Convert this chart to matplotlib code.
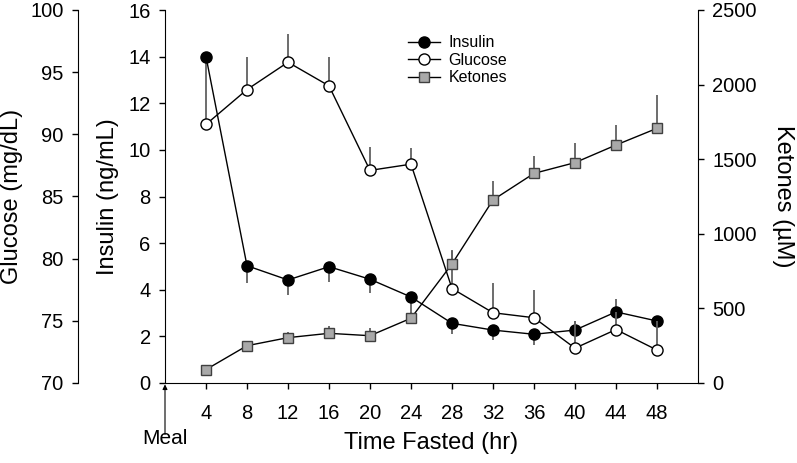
import matplotlib
matplotlib.use('Agg')
import matplotlib.pyplot as plt

plt.rcParams['font.family'] = ['Liberation Sans', 'DejaVu Sans']

hours = [4, 8, 12, 16, 20, 24, 28, 32, 36, 40, 44, 48]
insulin = [14.0, 5.03, 4.42, 4.99, 4.45, 3.69, 2.56, 2.27, 2.09, 2.27, 3.05, 2.66]
insulin_err_lo = [2.9, 0.73, 0.64, 0.64, 0.6, 0.9, 0.46, 0.43, 0.46, 0, 0, 0]
insulin_err_hi = [0, 0, 0, 0, 0, 0, 0, 0, 0, 0.39, 0.56, 0]
glucose = [90.8, 93.6, 95.8, 93.9, 87.1, 87.6, 77.6, 75.65, 75.25, 72.8, 74.3, 72.65]
glucose_err = [0, 2.6, 2.3, 2.3, 1.9, 1.3, 3.0, 2.4, 2.2, 2.2, 1.4, 2.3]
ketones = [90, 250, 304, 333, 317, 434, 798, 1227, 1405, 1477, 1595, 1707]
ketones_err = [0, 33, 40, 51, 54, 40, 94, 130, 116, 134, 132, 223]

fs_tick = 14.5
fs_label = 17
err_col = '0.38'

fig = plt.figure(figsize=(7.97, 4.63), dpi=100)
ax = fig.add_axes([165 / 797, 80 / 463, 533 / 797, 373 / 463])
ax_g = ax.twinx()
ax_k = ax.twinx()

# insulin on the main axes
ax.errorbar(hours, insulin, yerr=[insulin_err_lo, insulin_err_hi], fmt='none',
            ecolor=err_col, elinewidth=1.3, capsize=0, zorder=2)
l1, = ax.plot(hours, insulin, '-o', color='black', lw=1, ms=8,
              mfc='black', mec='black', zorder=3, label='Insulin')
ax.set_xlim(0, 52)
ax.set_ylim(0, 16)
ax.set_xticks(hours)
ax.set_yticks(range(0, 17, 2))
ax.set_ylabel('Insulin (ng/mL)', fontsize=fs_label, labelpad=7)
ax.set_xlabel('Time Fasted (hr)', fontsize=fs_label, labelpad=6)
ax.spines['top'].set_visible(False)
ax.spines['right'].set_visible(False)
ax.tick_params(labelsize=fs_tick, direction='out', length=4.3, width=1)
ax.tick_params(axis='y', pad=6)
ax.tick_params(axis='x', pad=11)

# glucose on an outer left axis
ax_g.errorbar(hours, glucose, yerr=[[0] * len(hours), glucose_err], fmt='none',
              ecolor=err_col, elinewidth=1.3, capsize=0, zorder=2)
l2, = ax_g.plot(hours, glucose, '-o', color='black', lw=1, ms=8,
                mfc='white', mec='black', zorder=3, label='Glucose')
ax_g.set_ylim(70, 100)
ax_g.set_yticks(range(70, 101, 5))
ax_g.yaxis.set_ticks_position('left')
ax_g.yaxis.set_label_position('left')
ax_g.spines['left'].set_position(('outward', 62.6))
for s in ['top', 'right', 'bottom']:
    ax_g.spines[s].set_visible(False)
ax_g.set_ylabel('Glucose (mg/dL)', fontsize=fs_label, labelpad=5)
ax_g.tick_params(labelsize=fs_tick, direction='out', length=4.3, width=1, pad=6)

# ketones on the right
ax_k.errorbar(hours, ketones, yerr=[[0] * len(hours), ketones_err], fmt='none',
              ecolor=err_col, elinewidth=1.3, capsize=0, zorder=2)
l3, = ax_k.plot(hours, ketones, '-s', color='black', lw=1, ms=7.5,
                mfc='#a9a9a9', mec='#404040', zorder=3, label='Ketones')
ax_k.set_ylim(0, 2500)
ax_k.set_yticks(range(0, 2501, 500))
for s in ['top', 'left', 'bottom']:
    ax_k.spines[s].set_visible(False)
ax_k.set_ylabel('Ketones (\u00b5M)', fontsize=fs_label, rotation=270, labelpad=26.5)
ax_k.tick_params(labelsize=fs_tick, direction='out', length=4.3, width=1, pad=6)

# meal marker
ax.annotate('', xy=(0, -1), xytext=(0, -37), xycoords=('data', 'axes points'),
            textcoords=('data', 'axes points'), annotation_clip=False,
            arrowprops=dict(arrowstyle='-|>', color='black', lw=0.8,
                            mutation_scale=7, shrinkA=0, shrinkB=0))
ax.annotate('Meal', xy=(0, 0), xycoords=('data', 'axes points'),
            xytext=(0, -40), textcoords='offset points',
            fontsize=15, ha='center', va='center', annotation_clip=False)

fig.legend(handles=[l1, l2, l3], loc='upper left',
           bbox_to_anchor=(402 / 797, 1 - 29 / 463), frameon=False,
           fontsize=11.5, handlelength=2.0, handletextpad=0.5,
           labelspacing=0.15, borderaxespad=0)

fig.savefig('out.png', dpi=100)
